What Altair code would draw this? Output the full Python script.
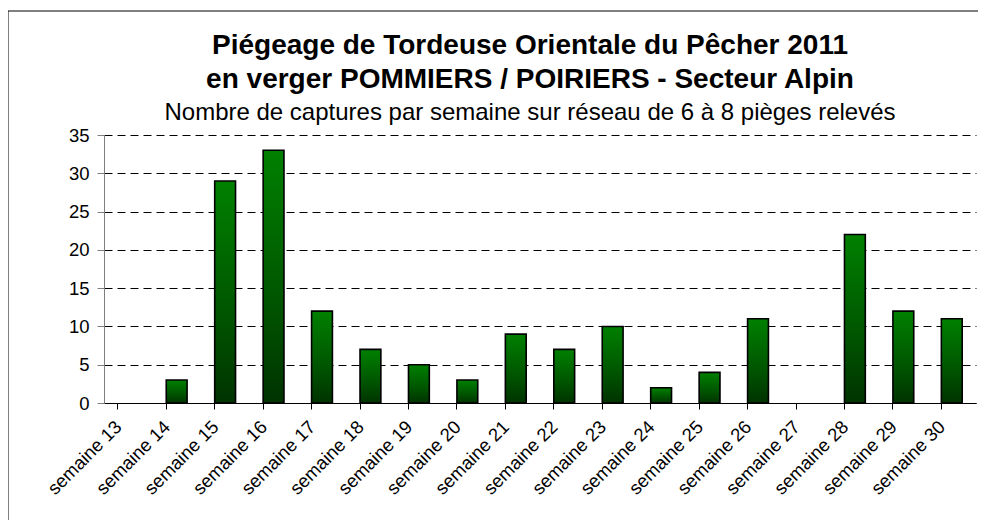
import altair as alt
import pandas as pd

weeks = ["semaine 13", "semaine 14", "semaine 15", "semaine 16", "semaine 17", "semaine 18",
         "semaine 19", "semaine 20", "semaine 21", "semaine 22", "semaine 23", "semaine 24",
         "semaine 25", "semaine 26", "semaine 27", "semaine 28", "semaine 29", "semaine 30"]
captures = [0, 3, 29, 33, 12, 7, 5, 3, 9, 7, 10, 2, 4, 11, 0, 22, 12, 11]
y_ticks = [0, 5, 10, 15, 20, 25, 30, 35]

title_lines = ["Piégeage de Tordeuse Orientale du Pêcher 2011",
               "en verger POMMIERS / POIRIERS - Secteur Alpin"]
subtitle = "Nombre de captures par semaine sur réseau de 6 à 8 pièges relevés"

df = pd.DataFrame({"semaine": weeks, "captures": captures})

W, H = 872, 268
FONT = "Liberation Sans"

gradient = alt.Gradient(
    gradient="linear",
    stops=[alt.GradientStop(color="#008000", offset=0),
           alt.GradientStop(color="#005500", offset=0.6),
           alt.GradientStop(color="#003300", offset=1)],
    x1=0, x2=0, y1=0, y2=1,
)

frame = alt.Chart(pd.DataFrame({"k": [0]})).mark_rect(
    fillOpacity=0, stroke="#000000", strokeWidth=1
).encode(
    x=alt.value(-96), x2=alt.value(W + 60),
    y=alt.value(-124), y2=alt.value(H + 300),
)

bars = alt.Chart(df).transform_filter(
    alt.datum.captures > 0
).mark_bar(
    color=gradient, stroke="#000000", strokeWidth=1.6
).encode(
    x=alt.X("semaine:N", sort=weeks,
            scale=alt.Scale(domain=weeks, paddingInner=0.57, paddingOuter=0.285),
            axis=alt.Axis(title=None, labelAngle=-45, labelAlign="right", labelBaseline="top",
                          bandPosition=0, labelOffset=-16, labelPadding=8,
                          labelFontSize=18.5, labelFont=FONT, labelColor="#000000",
                          domainColor="#000000", tickColor="#000000", tickSize=6,
                          grid=False, labelOverlap=False)),
    y=alt.Y("captures:Q",
            scale=alt.Scale(domain=[0, 35], nice=False),
            axis=alt.Axis(title=None, values=y_ticks, labelFontSize=18.5, labelFont=FONT,
                          labelColor="#000000", labelPadding=8,
                          domainColor="#808080", tickColor="#808080", tickSize=7,
                          grid=True, gridDash=[8, 5], gridColor="#000000", gridWidth=1)),
)

chart = alt.layer(frame, bars).properties(
    width=W, height=H,
    autosize=alt.AutoSizeParams(type="none"),
    padding={"left": 96, "top": 127, "right": 2, "bottom": 117},
    title=alt.TitleParams(
        text=title_lines, subtitle=subtitle,
        font=FONT, fontSize=28, fontWeight="bold", color="#000000", lineHeight=34,
        subtitleFont=FONT, subtitleFontSize=24, subtitleColor="#000000",
        subtitlePadding=7, anchor="middle", frame="group", dx=-10, offset=6, dy=120,
    ),
).configure_view(stroke=None)

chart.save("out.html", embed_options={"renderer": "svg", "actions": False})
